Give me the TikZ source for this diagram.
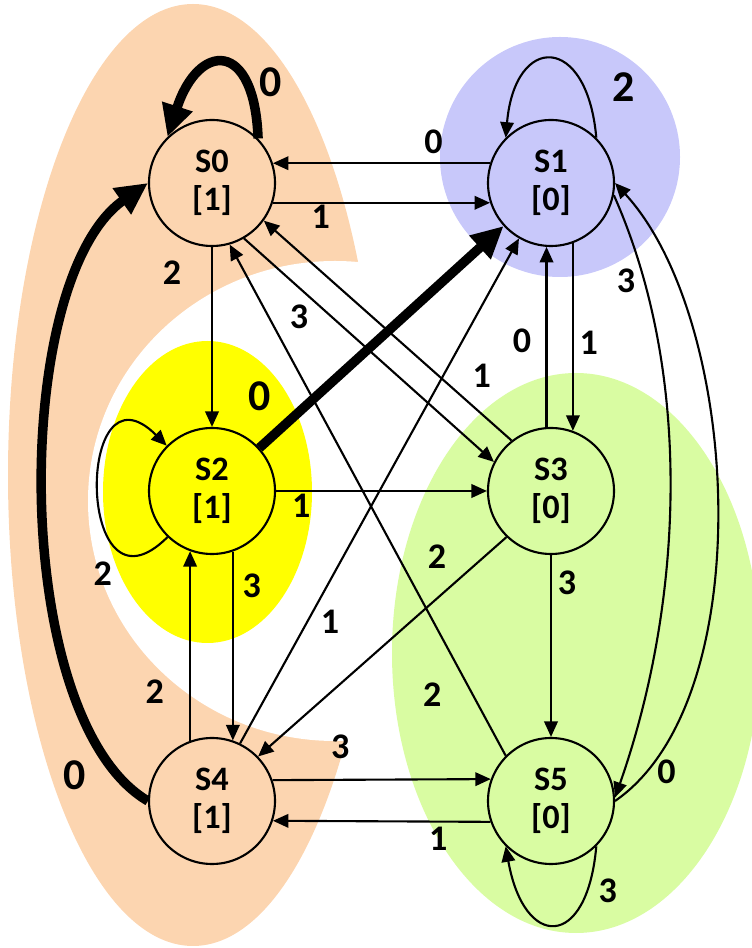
\documentclass[tikz,border=0pt]{standalone}
\usepackage{fontspec}
\setmainfont{Carlito}
\usetikzlibrary{arrows.meta,positioning}
\definecolor{fsmPeach}{HTML}{FCD5B0}
\definecolor{fsmLilac}{HTML}{C8C8FA}
\definecolor{fsmYellow}{HTML}{FFFF00}
\definecolor{fsmLime}{HTML}{D9FCA2}
\tikzset{
  fsm/.style={line width=1.2pt, >={Triangle[length=3.1mm, width=2.7mm]}},
  st/.style={circle, draw=black, minimum size=2.52cm, inner sep=0pt, align=center, font=\fontsize{19.5}{21.5}\selectfont\bfseries},
  tr/.style={->, draw=black, line width=1.2pt},
  hot/.style={-{Triangle[length=6.4mm, width=6mm]}, draw=black, line width=5.4pt},
  lbl/.style={font=\fontsize{20.5}{22}\selectfont\bfseries, inner sep=1pt},
  big/.style={lbl, font=\fontsize{25}{26}\selectfont\bfseries},
}

\begin{document}
\begin{tikzpicture}[fsm]
\useasboundingbox (0,0) rectangle (15.04,18.96);
% groups of equivalent states
\fill[fsmPeach] (3.86,9.46) ellipse [x radius=3.70, y radius=9.42];
\fill[white] (6.70,8.94) ellipse [x radius=4.94, y radius=4.80];
\fill[fsmLilac] (11.20,15.82) circle [radius=2.40];
\fill[fsmYellow] (4.15,9.12) ellipse [x radius=2.09, y radius=3.02];
\fill[fsmLime] (11.52,5.90) ellipse [x radius=3.68, y radius=5.60];

\foreach \n/\x/\y/\o/\c in {0/4.24/15.30/1/fsmPeach, 1/11.02/15.30/0/fsmLilac,
                            2/4.24/9.14/1/fsmYellow, 3/11.02/9.14/0/fsmLime,
                            4/4.24/2.94/1/fsmPeach, 5/11.02/2.94/0/fsmLime}
  \node[st, fill=\c] (S\n) at (\x,\y) {S\n\\{[\o]}};

% S0
\draw[hot] (S0.44) .. controls +(92:2) and +(72:2) .. (S0.134) node[big, pos=.25, right=1.3mm] (e00) {0};
\draw[tr] (S0.-18.5) -- node[lbl, pos=.22, below] (e01) {1} (S1.198.5);
\draw[tr] (S0) -- node[lbl, pos=.14, left=5.6mm] (e02) {2} (S2);
\draw[tr] (S0.-60) -- node[lbl, pos=.22, below=2.8mm] (e03) {3} (S3.153);
% S1
\draw[tr] (S1.162) -- node[lbl, pos=.26, above=1.4mm] (e10) {0} (S0.18);
\draw[tr] (S1.-70.5) -- node[lbl, pos=.53, right=.8mm] (e11) {1} (S3.70.5);
\draw[tr] (S1.45) .. controls +(95:2.1) and +(85:2.1) .. (S1.135) node[big, pos=.2, right=5mm] (e12) {2};
\draw[tr] (S1.-11) .. controls +(1.64,-3.70) and +(1.32,3.75) .. (S5.3) node[lbl, pos=.15, left=1.3mm] (e13) {3};
% S2
\draw[hot] (S2) -- (S1) node[big, at start, above=6.2mm] (e20) {0};
\draw[tr] (S2) -- node[lbl, pos=.12, below] (e21) {1} (S3);
\draw[tr] (S2.-134) .. controls +(-135:2.6) and +(135:2.6) .. (S2.135) node[lbl, pos=.15, below left=.5mm and 3.5mm] (e22) {2};
\draw[tr] (S2.-71.5) -- node[lbl, pos=.18, right=1.4mm] (e23) {3} (S4.71.5);
% S3
\draw[tr] (S3.94.5) -- node[lbl, pos=.48, left=2.5mm] (e30) {0} (S1.-94.5);
\draw[tr] (S3.128) -- node[lbl, pos=.12, above=4.7mm] (e31) {1} (S0.-36);
\draw[tr] (S3.-134) -- node[lbl, pos=.28, above=5.4mm] (e32) {2} (S4.44);
\draw[tr] (S3) -- node[lbl, pos=.15, right=.8mm] (e33) {3} (S5);
% S4
\draw[hot] (S4.west) .. controls +(-2.76,1.62) and +(-2.76,-1.94) .. (S0.west) node[big, pos=.08, left=5mm] (e40) {0};
\draw[tr] (S4.64) -- node[lbl, pos=.24, right=2.2mm] (e41) {1} (S1.-120);
\draw[tr] (S4.110.4) -- node[lbl, pos=.26, left=4.7mm] (e42) {2} (S2.-110.4);
\draw[tr] (S4.19.5) -- node[lbl, pos=.31, above=3.6mm] (e43) {3} (S5.160.5);
% S5
\draw[tr] (S5.east) .. controls +(2.92,2.02) and +(2.52,-2.74) .. (S1.east) node[lbl, pos=.08, right=1.5mm] (e50) {0};
\draw[tr] (S5.-161.5) -- node[lbl, pos=.24, below=.5mm] (e51) {1} (S4.-18.5);
\draw[tr] (S5.135) -- node[lbl, pos=.12, left=5.7mm] (e52) {2} (S0.-74);
\draw[tr] (S5.-45) .. controls +(-95:2.1) and +(-80:2.1) .. (S5.-135) node[lbl, pos=.17, right=1.7mm] (e53) {3};
\end{tikzpicture}
\end{document}
